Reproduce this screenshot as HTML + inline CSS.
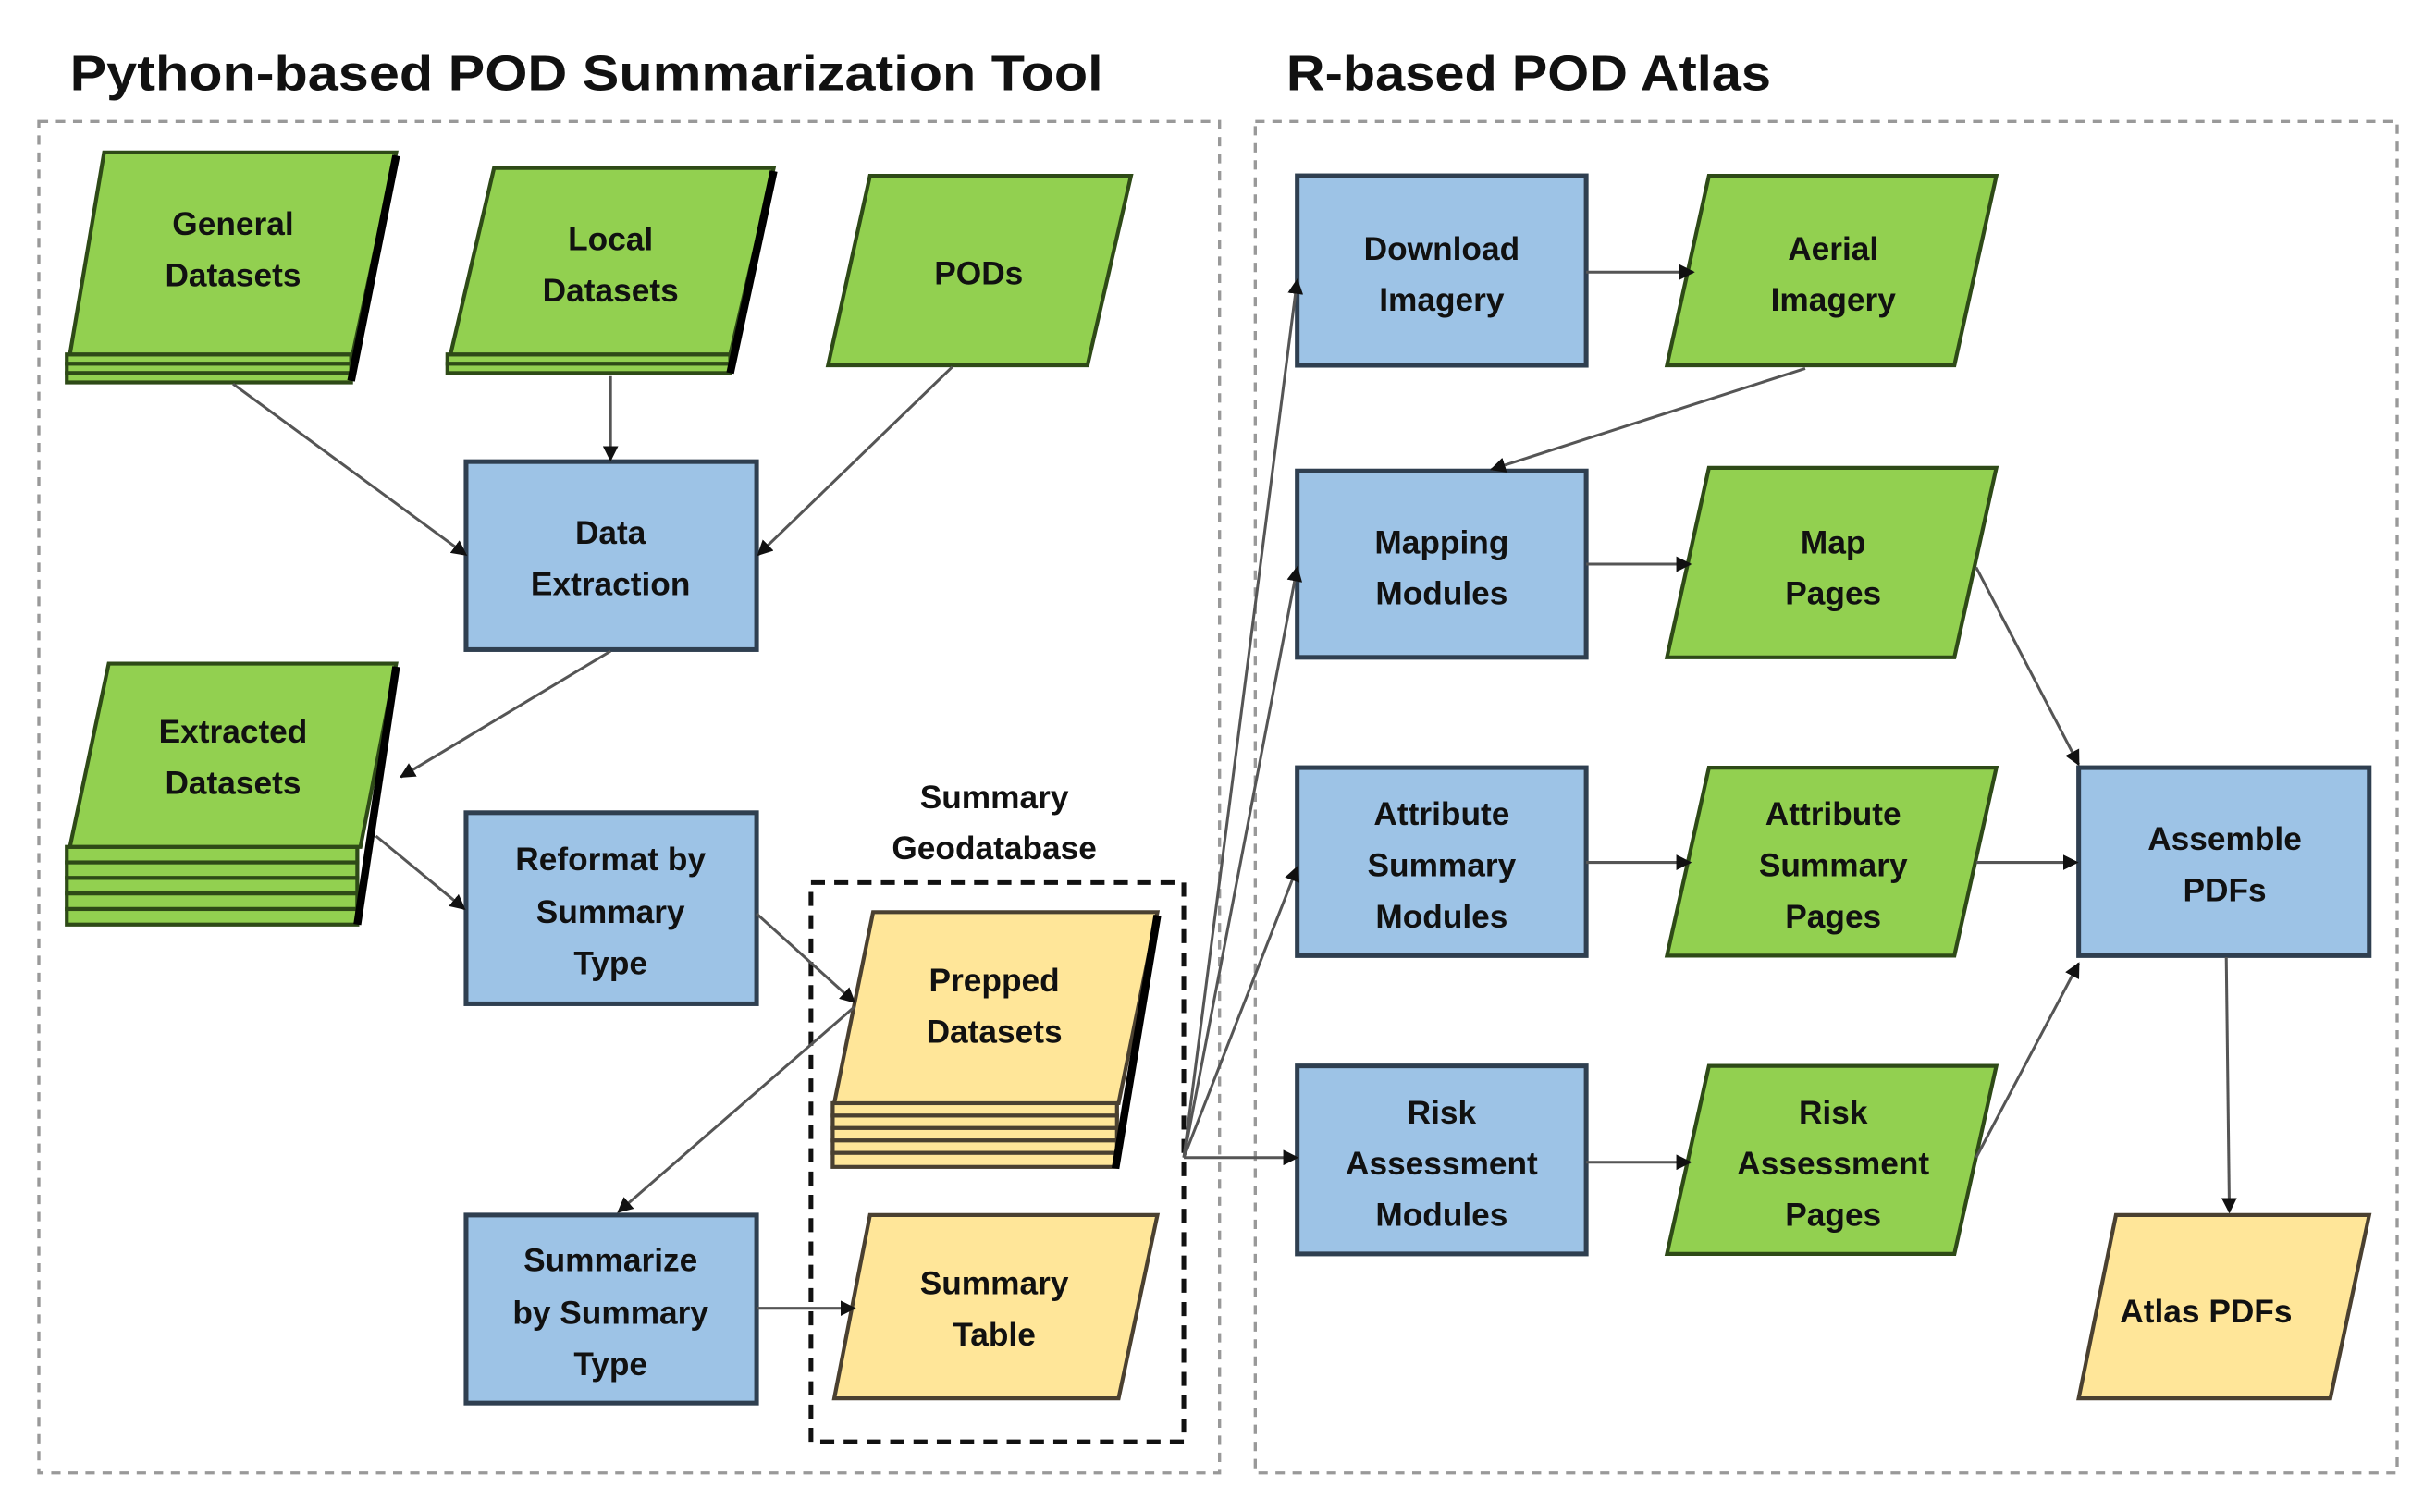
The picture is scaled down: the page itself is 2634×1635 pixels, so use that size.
<!DOCTYPE html>
<html><head><meta charset="utf-8"><style>
html,body{margin:0;padding:0;background:#fff}
svg{display:block}
text{font-family:"Liberation Sans",sans-serif;font-weight:bold;fill:#111}
.t{font-size:21px;text-anchor:middle}
</style></head><body>
<svg width="2634" height="1635" viewBox="0 0 1568 973" xmlns="http://www.w3.org/2000/svg">
<defs>
<marker id="a" markerWidth="10" markerHeight="10" refX="9" refY="5" orient="auto" markerUnits="userSpaceOnUse"><path d="M0,0 L10,5 L0,10 z" fill="#111"/></marker>
</defs>
<text x="45" y="58" font-size="32" textLength="665" lengthAdjust="spacingAndGlyphs">Python-based POD Summarization Tool</text>
<text x="828" y="58" font-size="32" textLength="312" lengthAdjust="spacingAndGlyphs">R-based POD Atlas</text>
<rect x="25" y="78" width="760" height="870" fill="none" stroke="#999" stroke-width="2" stroke-dasharray="6,5"/>
<rect x="808" y="78" width="735" height="870" fill="none" stroke="#999" stroke-width="2" stroke-dasharray="6,5"/>
<rect x="522" y="568" width="240" height="360" fill="none" stroke="#111" stroke-width="3" stroke-dasharray="9,6"/>

<g stroke="#2e4a17" stroke-width="2.5" fill="#92d050">
<!-- General -->
<rect x="43" y="228" width="183" height="6"/><rect x="43" y="234" width="183" height="6"/><rect x="43" y="240" width="183" height="6"/>
<path d="M67,98 L255,98 L227,228 L45,228 z"/><path d="M255,100 L226,245" stroke="#000" stroke-width="5"/>
<!-- Local -->
<rect x="288" y="228" width="182" height="6"/><rect x="288" y="234" width="182" height="6"/>
<path d="M318,108 L498,108 L470,228 L290,228 z"/><path d="M498,110 L470,240" stroke="#000" stroke-width="5"/>
<!-- PODs -->
<path d="M560,113 L728,113 L700,235 L533,235 z"/>
<!-- Extracted -->
<rect x="43" y="545" width="187" height="10"/><rect x="43" y="555" width="187" height="10"/><rect x="43" y="565" width="187" height="10"/><rect x="43" y="575" width="187" height="10"/><rect x="43" y="585" width="187" height="10"/>
<path d="M70,427 L255,427 L232,545 L45,545 z"/><path d="M255,429 L230,595" stroke="#000" stroke-width="5"/>
<!-- right column greens -->
<path d="M1100,113 L1285,113 L1258,235 L1073,235 z"/>
<path d="M1100,301 L1285,301 L1258,423 L1073,423 z"/>
<path d="M1100,494 L1285,494 L1258,615 L1073,615 z"/>
<path d="M1100,686 L1285,686 L1258,807 L1073,807 z"/>
</g>
<g stroke="#4a4030" stroke-width="2.5" fill="#ffe699">
<rect x="536" y="710" width="183" height="8"/><rect x="536" y="718" width="183" height="8"/><rect x="536" y="726" width="183" height="8"/><rect x="536" y="734" width="183" height="8"/><rect x="536" y="742" width="183" height="9"/>
<path d="M562,587 L745,587 L720,710 L537,710 z"/><path d="M745,589 L718,752" stroke="#000" stroke-width="5"/>
<path d="M560,782 L745,782 L720,900 L537,900 z"/>
<path d="M1362,782 L1525,782 L1500,900 L1338,900 z"/>
</g>
<g stroke="#2f3f50" stroke-width="3" fill="#9dc3e6">
<rect x="300" y="297" width="187" height="121"/>
<rect x="300" y="523" width="187" height="123"/>
<rect x="300" y="782" width="187" height="121"/>
<rect x="835" y="113" width="186" height="122"/>
<rect x="835" y="303" width="186" height="120"/>
<rect x="835" y="494" width="186" height="121"/>
<rect x="835" y="686" width="186" height="121"/>
<rect x="1338" y="494" width="187" height="121"/>
</g>

<g stroke="#555" stroke-width="1.8" fill="none" marker-end="url(#a)">
<path d="M150,247 L300,357"/>
<path d="M393,242 L393,296"/>
<path d="M613,236 L488,357"/>
<path d="M393,419 L258,500"/>
<path d="M242,538 L299,585"/>
<path d="M487,588 L550,645"/>
<path d="M550,648 L398,780"/>
<path d="M487,842 L550,842"/>
<path d="M762,745 L835,180"/>
<path d="M762,745 L835,365"/>
<path d="M762,745 L835,558"/>
<path d="M762,745 L835,745"/>
<path d="M1021,175 L1090,175"/>
<path d="M1162,237 L960,302"/>
<path d="M1021,363 L1088,363"/>
<path d="M1021,555 L1088,555"/>
<path d="M1021,748 L1088,748"/>
<path d="M1272,365 L1338,492"/>
<path d="M1272,555 L1337,555"/>
<path d="M1272,745 L1338,620"/>
<path d="M1433,616 L1435,780"/>
</g>

<g class="t">
<text class="t" x="150" y="151">General</text><text class="t" x="150" y="184">Datasets</text>
<text class="t" x="393" y="161">Local</text><text class="t" x="393" y="194">Datasets</text>
<text class="t" x="630" y="183">PODs</text>
<text class="t" x="393" y="350">Data</text><text class="t" x="393" y="383">Extraction</text>
<text class="t" x="150" y="478">Extracted</text><text class="t" x="150" y="511">Datasets</text>
<text class="t" x="393" y="560">Reformat by</text><text class="t" x="393" y="594">Summary</text><text class="t" x="393" y="627">Type</text>
<text class="t" x="393" y="818">Summarize</text><text class="t" x="393" y="852">by Summary</text><text class="t" x="393" y="885">Type</text>
<text class="t" x="640" y="520">Summary</text><text class="t" x="640" y="553">Geodatabase</text>
<text class="t" x="640" y="638">Prepped</text><text class="t" x="640" y="671">Datasets</text>
<text class="t" x="640" y="833">Summary</text><text class="t" x="640" y="866">Table</text>
<text class="t" x="928" y="167">Download</text><text class="t" x="928" y="200">Imagery</text>
<text class="t" x="1180" y="167">Aerial</text><text class="t" x="1180" y="200">Imagery</text>
<text class="t" x="928" y="356">Mapping</text><text class="t" x="928" y="389">Modules</text>
<text class="t" x="1180" y="356">Map</text><text class="t" x="1180" y="389">Pages</text>
<text class="t" x="928" y="531">Attribute</text><text class="t" x="928" y="564">Summary</text><text class="t" x="928" y="597">Modules</text>
<text class="t" x="1180" y="531">Attribute</text><text class="t" x="1180" y="564">Summary</text><text class="t" x="1180" y="597">Pages</text>
<text class="t" x="928" y="723">Risk</text><text class="t" x="928" y="756">Assessment</text><text class="t" x="928" y="789">Modules</text>
<text class="t" x="1180" y="723">Risk</text><text class="t" x="1180" y="756">Assessment</text><text class="t" x="1180" y="789">Pages</text>
<text class="t" x="1432" y="547">Assemble</text><text class="t" x="1432" y="580">PDFs</text>
<text class="t" x="1420" y="851">Atlas PDFs</text>
</g>
</svg>
</body></html>
